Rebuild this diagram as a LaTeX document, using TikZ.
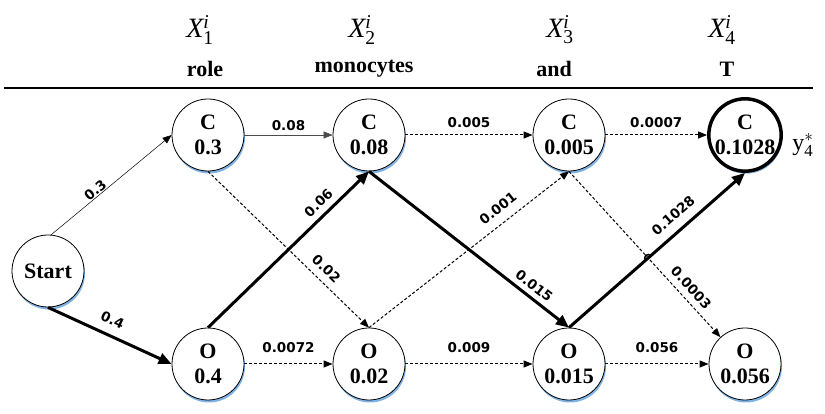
\documentclass[tikz,border=0pt]{standalone}
\usepackage{fontspec}
\setmainfont{Liberation Serif}
\newfontfamily\lblfont{DejaVu Sans}
\usepackage{tikz}
\usetikzlibrary{arrows.meta, shadows, intersections, calc}
\definecolor{shadowblue}{HTML}{7FB2E5}

\begin{document}
\begin{tikzpicture}[x=1pt, y=1pt,
        state/.style={circle, draw, line width=0.8pt, fill=white, minimum size=72pt, inner sep=0pt,
            align=center, font=\fontsize{22}{25}\selectfont\bfseries,
            drop shadow={shadow xshift=1pt, shadow yshift=-2.5pt, fill=shadowblue, opacity=1}},
        best/.style={line width=3pt, -{Triangle[length=13pt, width=11pt]}},
        plain/.style={line width=0.5pt, -{Triangle[length=9pt, width=7pt]}},
        weak/.style={line width=1pt, dash pattern=on 3pt off 2pt, -{Triangle[length=9pt, width=7pt]}},
        lbl/.style={font=\lblfont\bfseries\fontsize{13.5}{15}\selectfont, inner sep=1pt},
        head/.style={font=\fontsize{22}{25}\selectfont\bfseries},
        xlab/.style={font=\fontsize{28}{30}\selectfont}]
        \useasboundingbox (0,0) rectangle (825,414);
        % header
        \node[xlab] (x1) at (200,384) {$\mathit{X}^{\mathit{i}}_{\mathrm{1}}$};
        \node[xlab] (x2) at (362,384) {$\mathit{X}^{\mathit{i}}_{\mathrm{2}}$};
        \node[xlab] (x3) at (560,384) {$\mathit{X}^{\mathit{i}}_{\mathrm{3}}$};
        \node[xlab] (x4) at (722,384) {$\mathit{X}^{\mathit{i}}_{\mathrm{4}}$};
        \node[head] (w1) at (205,345) {role};
        \node[head] (w2) at (364,345) {monocytes};
        \node[head] (w3) at (554,345) {and};
        \node[head] (w4) at (727,345) {T};
        \draw[line width=1.2pt] (4,326) -- (813,326);
        % states
        \node[state] (start) at (48,143) {Start};
        \node[state] (c1) at (208,279) {C\\0.3};
        \node[state] (c2) at (369,279) {C\\0.08};
        \node[state] (c3) at (569,279) {C\\0.005};
        \node[state, line width=3.5pt] (c4) at (745,279) {C\\0.1028};
        \node[state] (o1) at (208,50) {O\\0.4};
        \node[state] (o2) at (369,50) {O\\0.02};
        \node[state] (o3) at (569,50) {O\\0.015};
        \node[state] (o4) at (745,50) {O\\0.056};
        \node[font=\fontsize{24}{26}\selectfont] (ystar) at (803,269) {$\mathrm{y}^{*}_{\mathrm{4}}$};
        % transitions
        \draw[plain] (start.85) -- node[lbl, sloped, above=0pt, pos=0.4] {0.3} (c1.west);
        \draw[best] (start.south) -- node[lbl, sloped, above=8pt, pos=0.47] {0.4} (o1.west);
        \draw[plain, draw=black!70] (c1) -- node[lbl, above=3pt] {0.08} (c2);
        \draw[weak] (c2) -- node[lbl, above=6pt] {0.005} (c3);
        \draw[weak] (c3) -- node[lbl, above=6pt] {0.0007} (c4);
        \draw[weak] (o1) -- node[lbl, above=10pt] {0.0072} (o2);
        \draw[weak] (o2) -- node[lbl, above=10pt] {0.009} (o3);
        \draw[weak] (o3) -- node[lbl, above=10pt] {0.056} (o4);
        \draw[weak] (c1.south) -- node[lbl, sloped, above=6pt, pos=0.68] {0.02} (o2.north);
        \draw[weak] (o2.north) -- node[lbl, sloped, above=8pt, pos=0.69] {0.001} (c3.south);
        \draw[weak, name path=c3o4] (c3.south) -- node[lbl, sloped, above=5pt, pos=0.75] {0.0003} (o4);
        \draw[best] (o1.north) -- node[lbl, sloped, above=5pt, pos=0.74] {0.06} (c2.south);
        \draw[best] (c2.south) -- node[lbl, sloped, above=4pt, pos=0.79] {0.015} (o3.north);
        \draw[best, name path=o3c4] (o3.north) -- node[lbl, sloped, above=8pt, pos=0.65] {0.1028} (c4.south);
        % small hop where the lines cross
        \path[name intersections={of=o3c4 and c3o4, by=hop}];
        \draw[line width=1.5pt] ($(hop)+(221.9:3.5)$) arc[start angle=221.9, end angle=41.9, radius=3.5];
    \end{tikzpicture}
\end{document}
